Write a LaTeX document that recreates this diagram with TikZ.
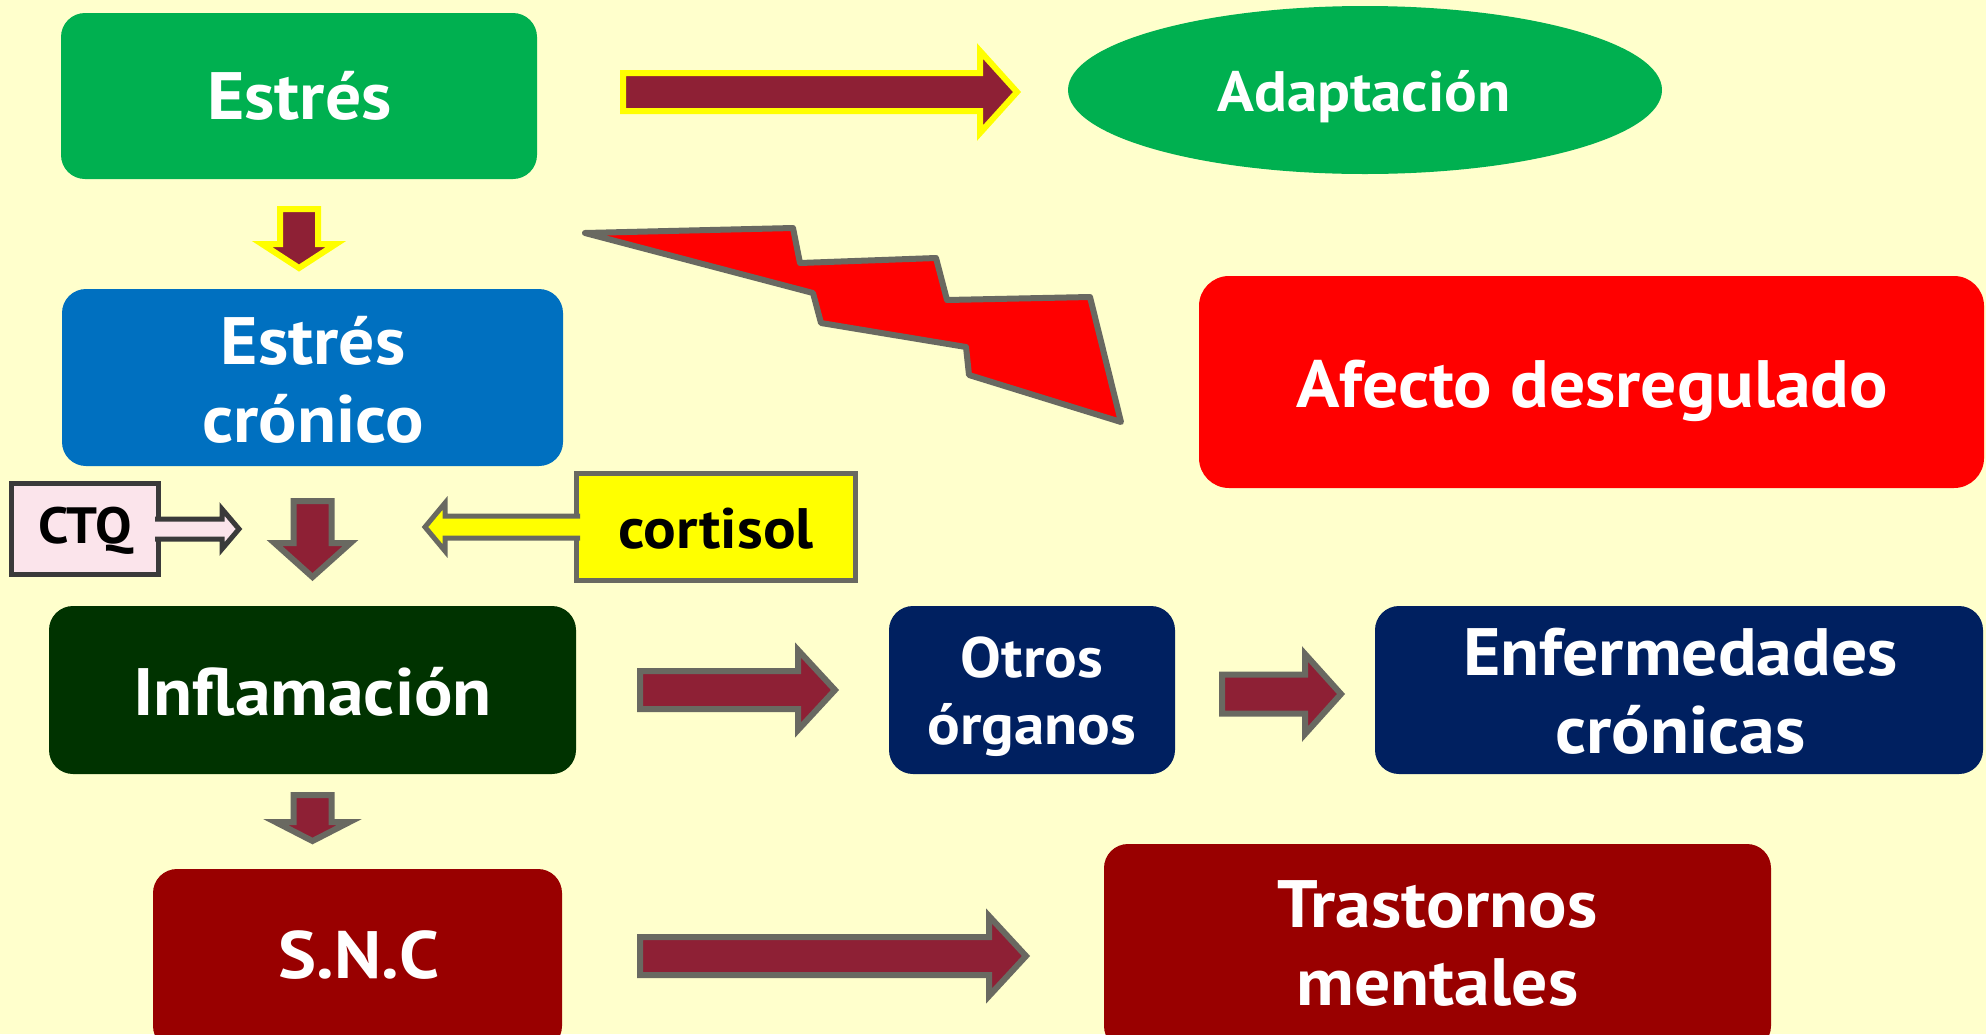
\documentclass[tikz,border=0pt]{standalone}
\usepackage{fontspec}
\setmainfont{PT Sans}[FakeStretch=1.07]
\usetikzlibrary{shapes.geometric,calc}
\definecolor{bg}{HTML}{FFFFCC}
\definecolor{cgreen}{HTML}{00B050}
\definecolor{cblue}{HTML}{0070C0}
\definecolor{cred}{HTML}{FF0000}
\definecolor{cdkgreen}{HTML}{003300}
\definecolor{cnavy}{HTML}{002060}
\definecolor{cdkred}{HTML}{990000}
\definecolor{amaroon}{HTML}{8E2035}
\definecolor{agray}{HTML}{696961}
\definecolor{ayellow}{HTML}{FFFF00}
\definecolor{ctqpink}{HTML}{FBE4EB}
\definecolor{ctqedge}{HTML}{3A3A3A}
\newcommand\blockarrow[6]{%
  \coordinate (hb) at ($(#3)!#6pt!(#2)$);
  \draw[#1] ($(#2)!#4pt!90:(#3)$) -- ($(hb)!#4pt!90:(#3)$) -- ($(hb)!#5pt!90:(#3)$) -- (#3)
    -- ($(hb)!#5pt!-90:(#3)$) -- ($(hb)!#4pt!-90:(#3)$) -- ($(#2)!#4pt!-90:(#3)$) -- cycle;}
\newcommand\joinedarrow[7]{%
  \coordinate (hb) at ($(#4)!#7pt!(#3)$);
  \fill[#1] ($(#3)!#5pt!90:(#4)$) -- ($(hb)!#5pt!90:(#4)$) -- ($(hb)!#6pt!90:(#4)$) -- (#4)
    -- ($(hb)!#6pt!-90:(#4)$) -- ($(hb)!#5pt!-90:(#4)$) -- ($(#3)!#5pt!-90:(#4)$) -- cycle;
  \draw[#2] ($(#3)!#5pt!90:(#4)$) -- ($(hb)!#5pt!90:(#4)$) -- ($(hb)!#6pt!90:(#4)$) -- (#4)
    -- ($(hb)!#6pt!-90:(#4)$) -- ($(hb)!#5pt!-90:(#4)$) -- ($(#3)!#5pt!-90:(#4)$);}
\tikzset{
  box/.style={rectangle, rounded corners=24pt, inner sep=0pt, draw=none},
  txt/.style={text=white, anchor=base, align=center, inner sep=0pt,
    font=\bfseries\fontsize{67}{78}\selectfont},
  txtm/.style={txt, font=\bfseries\fontsize{57}{67}\selectfont},
  yarrow/.style={fill=amaroon, draw=ayellow, line width=6pt},
  garrow/.style={fill=amaroon, draw=agray, line width=6pt},
  bolt/.style={fill=cred, draw=agray, line width=6pt, line join=round},
}
\begin{document}
\begin{tikzpicture}[x=1pt,y=-1pt]
\useasboundingbox (0,0) rectangle (1986,1034);
\fill[bg] (0,0) rectangle (1986,1034);

% boxes
\node[box, fill=cgreen, minimum width=476pt, minimum height=166pt] (estres) at (299,96) {};
\node[ellipse, fill=cgreen, inner sep=0pt, minimum width=594pt, minimum height=168pt] (adapt) at (1365,90) {};
\node[box, fill=cred, rounded corners=30pt, minimum width=785pt, minimum height=212pt] (afecto) at (1591.5,382) {};
\node[box, fill=cblue, minimum width=501pt, minimum height=177pt] (cronico) at (312.5,377.5) {};
\node[rectangle, fill=ctqpink, draw=ctqedge, line width=5pt, inner sep=0pt, minimum width=147pt, minimum height=91pt] (ctq) at (85,529) {};
\node[rectangle, fill=ayellow, draw=agray, line width=5pt, inner sep=0pt, minimum width=279pt, minimum height=107pt] (cortisol) at (716,527) {};
\node[box, fill=cdkgreen, minimum width=527pt, minimum height=168pt] (inflam) at (312.5,690) {};
\node[box, fill=cnavy, minimum width=286pt, minimum height=168pt] (otros) at (1032,690) {};
\node[box, fill=cnavy, minimum width=608pt, minimum height=168pt] (enferm) at (1679,690) {};
\node[box, fill=cdkred, minimum width=409pt, minimum height=181pt] (snc) at (357.5,959.5) {};
\node[box, fill=cdkred, minimum width=667pt, minimum height=206pt] (trast) at (1437.5,947) {};

% texts (multi-line nodes are placed at the baseline of their last line)
\node[txt] (estresT) at (299.5,119) {Estrés};
\node[txtm] (adaptT) at (1364,111) {Adaptación};
\node[txt] (afectoT) at (1592,407) {Afecto desregulado};
\node[txt] (cronicoT) at (313,442) {Estrés\\crónico};
\node[txt, text=black, font=\bfseries\fontsize{51}{60}\selectfont] (ctqT) at (85.5,543) {CTQ};
\node[txt, text=black, font=\bfseries\fontsize{57}{67}\selectfont] (cortisolT) at (716,548) {cortisol};
\node[txt] (inflamT) at (312.5,715) {Inflamación};
\node[txtm] (otrosT) at (1032,744) {Otros\\órganos};
\node[txt] (enfermT) at (1680.5,753) {Enfermedades\\crónicas};
\node[txt] (sncT) at (359,978) {S.N.C};
\node[txt] (trastT) at (1437.5,1005) {Trastornos\\mentales};

% arrow end points
\coordinate (a1s) at (623,92);   \coordinate (a1e) at (1017,92);
\coordinate (a2s) at (299,209);  \coordinate (a2e) at (299,268);
\coordinate (a3s) at (155,529);  \coordinate (a3e) at (239,529);
\coordinate (a4s) at (312.5,501); \coordinate (a4e) at (312.5,577);
\coordinate (a5s) at (580,527);  \coordinate (a5e) at (425,527);
\coordinate (a6s) at (640,690);  \coordinate (a6e) at (835,690);
\coordinate (a7s) at (1222,694); \coordinate (a7e) at (1341,694);
\coordinate (a8s) at (312.5,795); \coordinate (a8e) at (312.5,841);
\coordinate (a9s) at (640,956);  \coordinate (a9e) at (1026,956);

\blockarrow{yarrow}{a1s}{a1e}{19}{41}{37}
\blockarrow{yarrow}{a2s}{a2e}{19}{37}{24}
\joinedarrow{fill=ctqpink}{draw=ctqedge, line width=5pt}{a3s}{a3e}{10}{20}{17}
\blockarrow{garrow}{a4s}{a4e}{19}{38}{34}
\joinedarrow{fill=ayellow}{draw=agray, line width=5pt}{a5s}{a5e}{11}{24}{20}
\blockarrow{garrow}{a6s}{a6e}{19}{40}{37}
\blockarrow{garrow}{a7s}{a7e}{19.5}{40}{36}
\blockarrow{garrow}{a8s}{a8e}{19}{37}{19}
\blockarrow{garrow}{a9s}{a9e}{19}{40}{37}

% lightning bolt
\draw[bolt] (585,233) -- (793,228) -- (800,263) -- (936,258) -- (947,300) -- (1090,297)
  -- (1121,422) -- (969,375) -- (966,347) -- (821,323) -- (813,293) -- cycle;
\end{tikzpicture}
\end{document}
